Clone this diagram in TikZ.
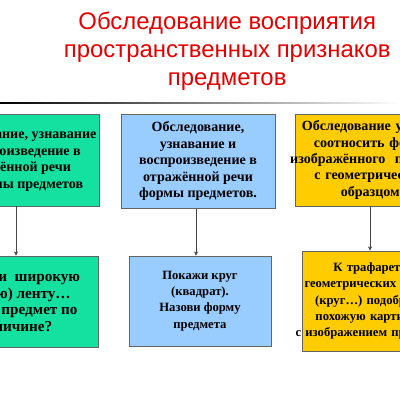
\documentclass[tikz,border=0pt]{standalone}
\usepackage{fontspec}
\setmainfont{Liberation Serif}
\newfontfamily\headfont{Liberation Sans}
\usetikzlibrary{arrows.meta}
\definecolor{headred}{RGB}{228,0,0}
\definecolor{boxgreen}{RGB}{20,224,160}
\definecolor{boxblue}{RGB}{153,204,255}
\definecolor{boxyellow}{RGB}{255,204,0}
\definecolor{edgegray}{RGB}{100,100,100}
\newcommand\wideline[1]{\makebox[0pt]{#1}}
\tikzset{
  box/.style={draw=edgegray,line width=0.6pt,align=center,inner sep=2pt,
    font=\bfseries\fontsize{10}{11.7}\selectfont},
  smallbox/.style={box,font=\bfseries\fontsize{9}{11.6}\selectfont},
  link/.style={draw=edgegray!70!black,line width=0.5pt,-{Stealth[length=3pt,width=3pt]}},
}
\begin{document}
\begin{tikzpicture}
  \useasboundingbox (0,0) rectangle (10,10);
  \clip (0,0) rectangle (10,10);
  % heading
  \node[headred,font=\headfont\fontsize{17}{20}\selectfont,align=center] (title) at (5.68,8.72)
    {Обследование восприятия\\пространственных признаков\\предметов};
  \shade[left color=black,right color=white] (0,7.415) rectangle (10,7.445);

  % upper row
  \node[box,fill=boxgreen,minimum width=4.05cm,minimum height=2.3cm] (sizeup) at (0.4,6.0)
    {Обследование, узнавание\\и воспроизведение в\\отражённой речи\\величины предметов};
  \node[box,fill=boxblue,minimum width=3.85cm,minimum height=2.35cm] (formup) at (4.95,5.97)
    {Обследование,\\узнавание и\\воспроизведение в\\отражённой речи\\формы предметов.};
  \node[box,fill=boxyellow,text width=3.65cm,minimum width=3.85cm,minimum height=2.3cm] (matchup) at (9.3,6.0)
    {\wideline{Обследование умения}\\соотносить форму\\\wideline{изображённого~~предмета}\\с геометрическим\\образцом.};

  % lower row
  \node[box,fill=boxgreen,font=\bfseries\fontsize{10.8}{11.7}\selectfont,minimum width=4.1cm,minimum height=2.28cm] (sizedown) at (0.4,2.46)
    {Покажи~~широкую\\(узкую) ленту\dots\\Какой предмет по\\величине?};
  \node[smallbox,fill=boxblue,minimum width=3.55cm,minimum height=2.25cm] (formdown) at (5.0,2.475)
    {Покажи круг\\(квадрат).\\Назови форму\\предмета};
  \node[smallbox,fill=boxyellow,text width=3.2cm,minimum width=3.4cm,minimum height=2.5cm] (matchdown) at (9.25,2.475)
    {К трафарету\\\wideline{геометрических фигур}\\(круг\dots) подобрать\\похожую картинку\\\wideline{с изображением предмета}};

  \draw[link] (sizeup.south) -- (sizedown.north);
  \draw[link] ([xshift=-0.5mm]formup.south) -- ([xshift=-0.5mm]formup.south |- formdown.north);
  \draw[link] ([xshift=-0.5mm]matchup.south) -- ([xshift=-0.5mm]matchup.south |- matchdown.north);
\end{tikzpicture}
\end{document}
